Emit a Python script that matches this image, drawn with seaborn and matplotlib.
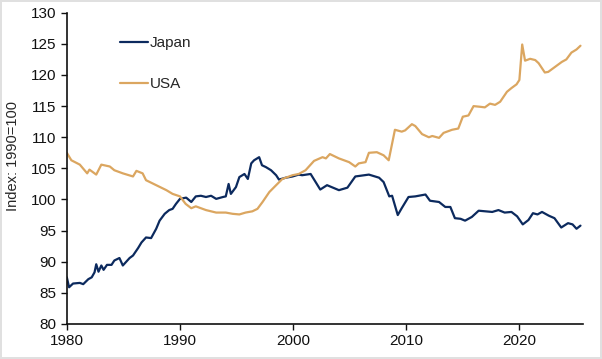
import numpy as np
import pandas as pd
import matplotlib
matplotlib.use("Agg")
import matplotlib.pyplot as plt
import seaborn as sns

# Japan: index 1990=100
japan_year = [1980.0, 1980.2, 1980.55, 1981.15, 1981.45, 1981.9, 1982.2, 1982.45, 1982.6,
              1982.8, 1983.05, 1983.25, 1983.55, 1983.95, 1984.2, 1984.65, 1984.95, 1985.55,
              1985.85, 1986.3, 1986.6, 1987.0, 1987.45, 1987.9, 1988.2, 1988.65, 1989.05,
              1989.35, 1989.65, 1990.0, 1990.55, 1991.0, 1991.4, 1991.85, 1992.3, 1992.75,
              1993.2, 1993.8, 1994.05, 1994.3, 1994.5, 1994.95, 1995.25, 1995.7, 1996.0,
              1996.3, 1996.55, 1997.0, 1997.25, 1997.6, 1998.05, 1998.5, 1998.75, 1999.35,
              1999.95, 2000.5, 2000.8, 2001.55, 2002.4, 2003.0, 2004.05, 2004.8, 2005.5,
              2006.7, 2007.6, 2008.0, 2008.5, 2008.75, 2009.25, 2009.6, 2010.2, 2010.8,
              2011.7, 2012.1, 2012.9, 2013.45, 2013.9, 2014.3, 2014.8, 2015.2, 2015.8,
              2016.4, 2017.0, 2017.6, 2018.15, 2018.7, 2019.3, 2019.8, 2020.3, 2020.8,
              2021.2, 2021.6, 2022.0, 2022.6, 2023.1, 2023.7, 2024.3, 2024.7, 2025.05,
              2025.4]
japan_val = [87.5, 85.9, 86.5, 86.6, 86.4, 87.2, 87.5, 88.3, 89.6,
             88.4, 89.4, 88.7, 89.5, 89.5, 90.2, 90.6, 89.4, 90.6,
             91.0, 92.2, 93.1, 93.9, 93.8, 95.3, 96.6, 97.7, 98.3,
             98.5, 99.3, 100.1, 100.3, 99.6, 100.5, 100.6, 100.4, 100.6,
             100.1, 100.4, 100.5, 102.5, 100.9, 102.0, 103.6, 104.1, 103.3,
             105.8, 106.3, 106.8, 105.5, 105.2, 104.7, 103.9, 103.2, 103.5,
             103.7, 104.0, 103.9, 104.1, 101.6, 102.3, 101.5, 101.9, 103.7,
             104.0, 103.5, 102.8, 100.5, 100.6, 97.5, 98.6, 100.4, 100.5,
             100.8, 99.8, 99.6, 98.8, 98.8, 97.0, 96.9, 96.6, 97.2,
             98.2, 98.1, 98.0, 98.3, 97.9, 98.0, 97.3, 96.0, 96.7,
             97.8, 97.6, 98.0, 97.4, 97.0, 95.5, 96.2, 96.0, 95.3,
             95.8]

# USA: index 1990=100
usa_year = [1980.0, 1980.4, 1981.15, 1981.8, 1982.0, 1982.6, 1983.05, 1983.8, 1984.2,
            1984.95, 1985.85, 1986.15, 1986.7, 1987.0, 1987.9, 1988.8, 1989.35, 1990.0,
            1990.5, 1991.0, 1991.4, 1992.3, 1993.2, 1994.05, 1994.65, 1995.25, 1995.8,
            1996.4, 1996.85, 1997.3, 1997.9, 1998.5, 1999.05, 1999.95, 2000.5, 2001.1,
            2001.85, 2002.6, 2002.9, 2003.25, 2004.05, 2004.95, 2005.5, 2005.8, 2006.4,
            2006.7, 2007.4, 2008.0, 2008.45, 2009.0, 2009.6, 2009.9, 2010.5, 2010.8,
            2011.4, 2012.0, 2012.3, 2012.9, 2013.3, 2014.05, 2014.6, 2015.0, 2015.5,
            2015.95, 2016.5, 2016.95, 2017.4, 2017.85, 2018.3, 2018.9, 2019.3, 2019.75,
            2020.0, 2020.25, 2020.5, 2020.95, 2021.4, 2021.7, 2022.25, 2022.55, 2023.15,
            2023.75, 2024.15, 2024.6, 2025.05, 2025.4]
usa_val = [107.5, 106.3, 105.6, 104.2, 104.8, 104.0, 105.6, 105.3, 104.7,
           104.2, 103.7, 104.6, 104.2, 103.1, 102.3, 101.5, 100.9, 100.5,
           99.3, 98.6, 98.9, 98.3, 97.9, 97.9, 97.7, 97.6, 97.9,
           98.1, 98.5, 99.6, 101.2, 102.3, 103.3, 103.9, 104.1, 104.7,
           106.2, 106.8, 106.6, 107.3, 106.6, 106.0, 105.3, 105.8, 106.0,
           107.5, 107.6, 107.1, 106.3, 111.2, 110.9, 111.1, 112.1, 111.8,
           110.5, 110.0, 110.2, 109.9, 110.7, 111.2, 111.4, 113.3, 113.5,
           115.0, 114.9, 114.8, 115.4, 115.2, 115.7, 117.3, 117.9, 118.5,
           119.2, 124.9, 122.3, 122.6, 122.4, 121.9, 120.4, 120.5, 121.3,
           122.1, 122.5, 123.6, 124.1, 124.7]

df = pd.concat([
    pd.DataFrame({"year": japan_year, "index": japan_val, "country": "Japan"}),
    pd.DataFrame({"year": usa_year, "index": usa_val, "country": "USA"}),
])

sns.set_style("ticks")
plt.rcParams["font.family"] = ["Liberation Sans", "DejaVu Sans"]

fig = plt.figure(figsize=(6.02, 3.59), dpi=100)
fig.patch.set_edgecolor("#e0e0e0")
fig.patch.set_linewidth(1.5)
ax = fig.add_axes([0.111, 0.0975, 0.857, 0.867])

sns.lineplot(data=df, x="year", y="index", hue="country", ax=ax,
             palette={"Japan": "#0c2a5e", "USA": "#dba660"},
             linewidth=1.6, estimator=None, sort=False)

ax.set_xlim(1980, 2025.6)
ax.set_ylim(80, 130)
ax.set_xticks([1980, 1990, 2000, 2010, 2020])
ax.set_yticks(np.arange(80, 131, 5))
ax.tick_params(labelsize=11, length=4, width=1, colors="#111111")
for s in ["top", "right"]:
    ax.spines[s].set_visible(False)
for s in ["left", "bottom"]:
    ax.spines[s].set_linewidth(1.2)
    ax.spines[s].set_color("#111111")

ax.set_xlabel("")
ax.set_ylabel("Index: 1990=100", fontsize=10.5)
ax.yaxis.set_label_coords(-0.09, 0.54)

leg = ax.legend(title=None, frameon=False, fontsize=11, loc="upper left",
                bbox_to_anchor=(0.077, 0.968), labelspacing=1.75,
                handlelength=1.8, handletextpad=0.15)

fig.savefig("out.png", dpi=100)
